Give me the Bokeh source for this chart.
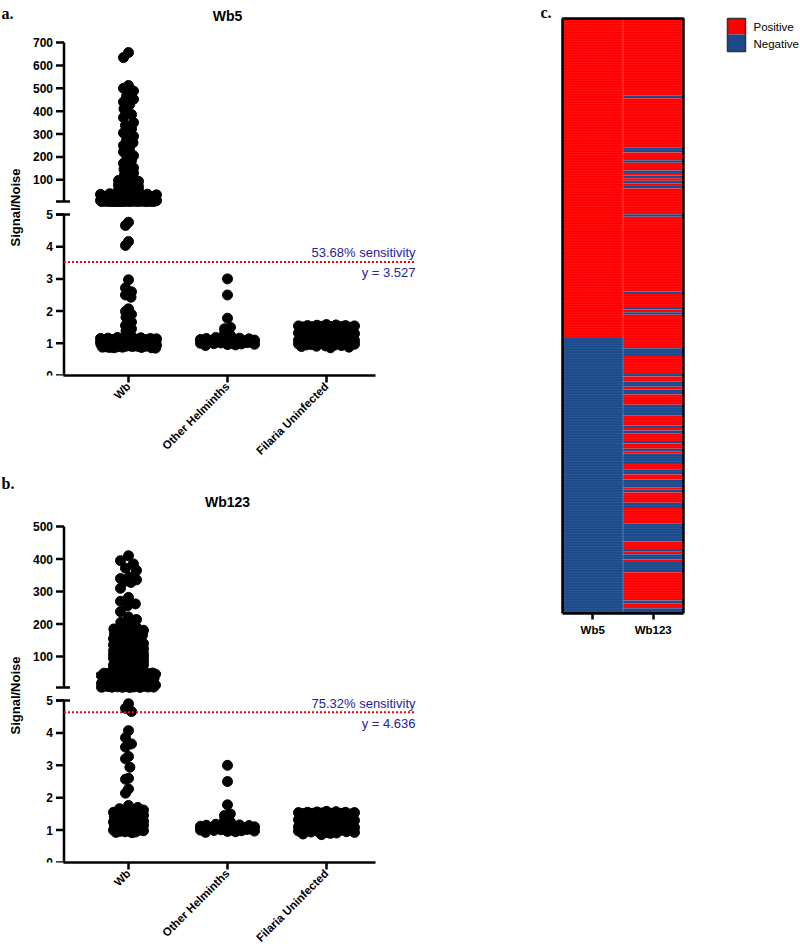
import numpy as np
from math import pi
from bokeh.plotting import figure
from bokeh.models import Range1d, FixedTicker
from bokeh.layouts import row, column
from bokeh.embed import file_html
from bokeh.resources import INLINE
from bokeh.core.properties import value

SANS = "Liberation Sans"
SERIF = "Liberation Serif"
RED = "#ff0000"
BLUE = "#1b4a8c"
NOTE_BLUE = "#23239b"

groups = ["Wb", "Other Helminths", "Filaria Uninfected"]

# ---------------- Wb5 signal/noise ratios ----------------
wb5_wb = [
    656, 634, 512, 500, 488, 465, 452, 440, 428, 410, 385, 372, 350, 338, 322, 305, 290, 272, 262, 250,
    236, 222, 205, 196, 185, 172, 162, 152, 146, 138, 130, 122, 115, 108, 102,
    97, 93, 88, 85, 81, 77, 74, 70, 66, 63, 61, 58, 55, 53, 51, 49, 47, 45, 43, 41,
    39, 37, 36, 34, 33, 31, 30, 29, 27, 26, 25, 24, 23, 22, 21, 20, 19, 18, 17, 16.5,
    16, 15, 14.5, 14, 13, 12.5, 12, 11.5, 11, 10.5, 10, 9.6, 9.3, 9, 8.7, 8.4, 8.1, 7.9, 7.6, 7.4,
    7.2, 7, 6.8, 6.6, 6.4, 6.3, 6.1, 6, 5.9, 5.8, 5.7, 5.6, 5.55, 5.5, 5.45, 5.4, 5.35, 5.3, 5.25, 5.2,
    5.15, 5.12, 5.08, 5.05, 5.02,
    4.76, 4.66, 4.16, 4.04,
    2.97, 2.72, 2.60, 2.50, 2.43, 2.07, 1.99, 1.90, 1.81, 1.66, 1.55, 1.45, 1.38, 1.32, 1.27, 1.22,
    1.18, 1.17, 1.16, 1.15, 1.15, 1.14, 1.13, 1.13, 1.12, 1.12,
    1.11, 1.11, 1.10, 1.10, 1.10, 1.09, 1.09, 1.09, 1.08, 1.08,
    1.08, 1.07, 1.07, 1.07, 1.06, 1.06, 1.06, 1.06, 1.05, 1.05,
    1.05, 1.05, 1.04, 1.04, 1.04, 1.04, 1.03, 1.03, 1.03, 1.03,
    1.02, 1.02, 1.02, 1.02, 1.01, 1.01, 1.01, 1.01, 1.00, 1.00,
    1.00, 1.00, 0.99, 0.99, 0.99, 0.99, 0.98, 0.98, 0.98, 0.98,
    0.97, 0.97, 0.97, 0.96, 0.96, 0.96, 0.95, 0.95, 0.95, 0.94,
    0.94, 0.94, 0.93, 0.93, 0.92, 0.92, 0.91, 0.91, 0.90, 0.90,
    0.89, 0.89, 0.88, 0.88, 0.87, 0.87, 0.86, 0.86, 0.85, 1.12,
    1.08,
]
wb5_other = [
    3.00, 2.50, 1.78, 1.50, 1.45, 1.38, 1.30, 1.25, 1.20, 1.18,
    1.16, 1.15, 1.14, 1.12, 1.12, 1.10, 1.10, 1.08, 1.08, 1.07,
    1.06, 1.05, 1.05, 1.04, 1.03, 1.03, 1.02, 1.01, 1.00, 1.00,
    0.99, 0.98, 0.97, 0.96, 0.95, 0.93,
]
wb5_uninfected = [
    0.86, 0.88, 0.90, 0.91, 0.92, 0.93, 0.94, 0.95, 0.96, 0.97,
    0.98, 0.99, 1.00, 1.00, 1.01, 1.02, 1.03, 1.04, 1.05, 1.06,
    1.07, 1.08, 1.09, 1.10, 1.11, 1.12, 1.13, 1.14, 1.16, 1.18,
    1.28, 1.30, 1.32, 1.34, 1.36, 1.37, 1.38, 1.39, 1.40, 1.41,
    1.42, 1.42, 1.43, 1.44, 1.44, 1.45, 1.45, 1.46, 1.46, 1.47,
    1.47, 1.48, 1.48, 1.49, 1.49, 1.50, 1.50, 1.50, 1.51, 1.52,
    1.52, 1.52, 1.53, 1.54, 1.54, 1.55, 1.55, 1.56, 1.57, 1.58,
]
wb5_cutoff = 3.527
wb5_note = "53.68% sensitivity"
wb5_top_ticks = [100, 200, 300, 400, 500, 600, 700]

# ---------------- Wb123 signal/noise ratios ----------------
wb123_wb = [
    410, 395, 385, 372, 365, 345, 340, 336, 332, 328, 310, 282, 270, 262, 256, 238, 222, 214, 205, 198, 190,
    185, 183, 181, 179, 178, 177, 175, 172, 170, 168, 166, 165, 162, 160, 158, 155, 154, 152, 150, 148,
    146, 144, 142, 140, 138, 136, 135, 134, 132, 130, 128, 126, 124, 122, 120, 118, 116, 114, 112, 110,
    109, 108, 107, 106, 105, 104, 103, 102, 101, 100,
    99, 98, 96, 95, 94, 92, 91, 90, 88, 87, 86, 84, 83, 82, 80, 79, 78, 76, 75, 74,
    72, 71, 70, 68, 67, 66, 64, 63, 62, 60, 59, 58, 57, 56, 55, 54, 53, 52, 51, 50,
    49.5, 49, 48.8, 48.5, 48.2,
    47, 46, 45, 44, 43, 42, 41, 40, 39, 38, 37, 36, 35, 34, 33, 32, 31, 30, 29, 28,
    27, 26, 25, 24, 23, 22, 21, 20, 19, 18, 17, 16, 15, 14, 13, 12.5, 12, 11.5, 11, 10.5,
    10, 9.5, 9, 8.5, 8, 7.5, 7, 6.8, 6.5, 6.2, 6, 5.8, 5.5, 5.3, 5.1,
    4.9, 4.76, 4.66,
    4.07, 3.85, 3.66, 3.56, 3.27, 3.2, 2.94, 2.6, 2.57, 2.27, 2.14, 1.76, 1.7, 1.66, 1.62, 1.58,
    1.55, 1.52, 1.5, 1.48, 1.46, 1.44, 1.42, 1.4, 1.38, 1.36, 1.34, 1.32, 1.3, 1.28, 1.26, 1.25, 1.24, 1.22, 1.2, 1.18,
    1.16, 1.15, 1.14, 1.12, 1.1, 1.08, 1.06, 1.05, 1.04, 1.03, 1.02, 1.01, 1.0, 0.99, 0.98, 0.97, 0.96, 0.95, 0.94, 0.93, 0.92,
]
wb123_other = [
    3.00, 2.50, 1.78, 1.50, 1.45, 1.38, 1.30, 1.25, 1.20, 1.18,
    1.16, 1.15, 1.14, 1.12, 1.12, 1.10, 1.10, 1.08, 1.08, 1.07,
    1.06, 1.05, 1.05, 1.04, 1.03, 1.03, 1.02, 1.01, 1.00, 1.00,
    0.99, 0.98, 0.97, 0.96, 0.95, 0.93,
]
wb123_uninfected = [
    0.86, 0.88, 0.90, 0.91, 0.92, 0.93, 0.94, 0.95, 0.96, 0.97,
    0.98, 0.99, 1.00, 1.00, 1.01, 1.02, 1.03, 1.04, 1.05, 1.06,
    1.07, 1.08, 1.09, 1.10, 1.11, 1.12, 1.13, 1.14, 1.16, 1.18,
    1.28, 1.30, 1.32, 1.34, 1.36, 1.37, 1.38, 1.39, 1.40, 1.41,
    1.42, 1.42, 1.43, 1.44, 1.44, 1.45, 1.45, 1.46, 1.46, 1.47,
    1.47, 1.48, 1.48, 1.49, 1.49, 1.50, 1.50, 1.50, 1.51, 1.52,
    1.52, 1.52, 1.53, 1.54, 1.54, 1.55, 1.55, 1.56, 1.57, 1.58,
]
wb123_cutoff = 4.636
wb123_note = "75.32% sensitivity"
wb123_top_ticks = [100, 200, 300, 400, 500]

low_ticks = [0, 1, 2, 3, 4, 5]
BREAK_AT = 5

# ---------------- per-sample calls (run lengths, top to bottom) ----------------
heat_columns = ["Wb5", "Wb123"]
heat_wb5_runs = [("P", 124), ("N", 107)]
heat_wb123_runs = [
    ("P", 30), ("N", 1), ("P", 19), ("N", 2), ("P", 3), ("N", 1), ("P", 3), ("N", 1), ("P", 1), ("N", 1),
    ("P", 1), ("N", 1), ("P", 1), ("N", 1), ("P", 10), ("N", 1), ("P", 29), ("N", 1), ("P", 5), ("N", 1),
    ("P", 1), ("N", 1), ("P", 13), ("N", 3), ("P", 7), ("N", 1), ("P", 2), ("N", 2), ("P", 1), ("N", 2),
    ("P", 4), ("N", 4), ("P", 4), ("N", 1), ("P", 1), ("N", 1), ("P", 3), ("N", 1), ("P", 2), ("N", 1),
    ("P", 1), ("N", 4), ("P", 2), ("N", 2), ("P", 2), ("N", 3), ("P", 1), ("N", 1), ("P", 4), ("N", 2),
    ("P", 6), ("N", 7), ("P", 3), ("N", 1), ("P", 1), ("N", 2), ("P", 1), ("N", 4), ("P", 11), ("N", 1),
    ("P", 2), ("N", 2),
]
legend_labels = ["Positive", "Negative"]

DOT = 10
DOT_GAP = 9.5


def swarm(py, half_max, dmin):
    """Horizontal offsets (px) packing dots round a centre line; overlap once a row is full."""
    py = np.asarray(py, float)
    half_max = np.asarray(half_max, float)
    out = np.zeros(len(py))
    px_l, py_l = [], []
    for i in np.argsort(py, kind="stable"):
        y, hm = py[i], half_max[i]
        if px_l:
            ax = np.array(px_l)
            ay = np.array(py_l)
            m = np.abs(ay - y) < dmin
            nx, ny = ax[m], ay[m]
        else:
            nx = ny = np.zeros(0)
        h = np.sqrt(np.maximum(dmin ** 2 - (ny - y) ** 2, 0))
        cands = np.concatenate([[0.0], nx - h, nx + h])
        free = [c for c in cands
                if abs(c) <= hm + 1e-9 and not np.any(np.abs(c - nx) < h - 1e-6)]
        if free:
            pref = -1 if np.sum(nx < 0) < np.sum(nx > 0) else 1
            best = min(free, key=lambda c: (round(abs(c), 4), 0 if c * pref >= 0 else 1))
        else:
            grid = np.linspace(-hm, hm, int(4 * hm) + 1)
            d = np.sqrt((grid[:, None] - nx[None, :]) ** 2 + (y - ny[None, :]) ** 2).min(axis=1)
            best = grid[np.argmax(d - 1e-3 * np.abs(grid))]
        out[i] = best
        px_l.append(best)
        py_l.append(y)
    return out


def txt(p, x, y, s, size, bold=True, align="left", baseline="middle", color="black",
        font=SANS, angle=0.0, **kw):
    p.text(x=[x], y=[y], text=[s], text_font=value(font), text_font_size=size,
           text_font_style="bold" if bold else "normal", text_align=align,
           text_baseline=baseline, text_color=color, angle=angle, **kw)


def style_xaxis(xa, size, standoff):
    xa.axis_line_width = 2.5
    xa.axis_line_color = "black"
    xa.major_tick_line_width = 2.5
    xa.major_tick_line_color = "black"
    xa.major_tick_in = 0
    xa.minor_tick_out = 0
    xa.minor_tick_in = 0
    xa.major_label_standoff = standoff
    xa.major_label_text_font = SANS
    xa.major_label_text_font_style = "bold"
    xa.major_label_text_font_size = size
    xa.major_label_text_color = "black"


def scatter_panel(spec, series, cutoff, note, title, tag, top_ticks):
    W, H = spec["width"], spec["height"]
    z_px, f_px = spec["zero_px"], spec["five_px"]
    lo_px, hi_px = spec["top_low_px"], spec["top_high_px"]
    top_max = top_ticks[-1]
    syb = (z_px - f_px) / BREAK_AT
    syt = (lo_px - hi_px) / (top_max - BREAK_AT)
    X0, SX = spec["first_x_px"], spec["step_px"]

    def xd(px):
        return (px - X0) / SX

    def yb(px):
        return (z_px - px) / syb

    def yt(px):
        return BREAK_AT + (lo_px - px) / syt

    p = figure(width=W, height=H, output_backend="svg", toolbar_location=None,
               x_range=Range1d(xd(0), xd(W)), y_range=Range1d(yb(z_px), yb(0)),
               y_axis_location=None, x_axis_location="below",
               min_border_left=0, min_border_right=0, min_border_top=0,
               min_border_bottom=H - z_px)
    p.extra_y_ranges = {"top": Range1d(yt(z_px), yt(0))}
    p.xgrid.visible = False
    p.ygrid.visible = False
    p.outline_line_color = None

    # dots of each group, packed side by side, plus the median bar
    for g, vals in enumerate(series):
        v = np.asarray(vals, float)
        up = v >= BREAK_AT
        pix = np.where(up, lo_px - (v - BREAK_AT) * syt, z_px - v * syb)
        widths = np.full(len(v), 28.0)
        for lo, hi, w in spec["spread"][g]:
            widths[(v >= lo) & (v < hi)] = w
        off = swarm(pix, widths, DOT_GAP)
        xs = g + off / SX
        p.scatter(xs[~up], v[~up], size=DOT, fill_color="black", line_color="black")
        if up.any():
            p.scatter(xs[up], v[up], size=DOT, fill_color="black", line_color="black",
                      y_range_name="top")
        med = float(np.median(v))
        hw = spec["median_half_px"] / SX
        extra = {"y_range_name": "top"} if med >= BREAK_AT else {}
        p.segment(x0=[g - hw], y0=[med], x1=[g + hw], y1=[med], line_color="black",
                  line_width=1.8, **extra)

    # broken y axis, two pieces
    ax = xd(spec["axis_px"])
    t0 = xd(spec["axis_px"] - 8)
    br = xd(spec["axis_px"] + 6)
    lx = xd(spec["axis_px"] - 11)
    kw_top = {"y_range_name": "top"}
    axis_style = dict(line_color="black", line_width=2.5)
    p.segment(x0=[ax], y0=[BREAK_AT], x1=[ax], y1=[top_max], **axis_style, **kw_top)
    p.segment(x0=[t0] * len(top_ticks), y0=top_ticks, x1=[ax] * len(top_ticks), y1=top_ticks,
              **axis_style, **kw_top)
    p.segment(x0=[t0], y0=[BREAK_AT], x1=[br], y1=[BREAK_AT], **axis_style, **kw_top)
    p.text(x=[lx] * len(top_ticks), y=top_ticks, text=[str(t) for t in top_ticks],
           text_font=value(SANS), text_font_size="12px", text_font_style="bold",
           text_align="right", text_baseline="middle", **kw_top)

    p.segment(x0=[ax], y0=[yb(z_px + 1.2)], x1=[ax], y1=[BREAK_AT], **axis_style)
    p.segment(x0=[t0] * len(low_ticks), y0=low_ticks, x1=[ax] * len(low_ticks), y1=low_ticks,
              **axis_style)
    p.segment(x0=[t0], y0=[BREAK_AT], x1=[br], y1=[BREAK_AT], **axis_style)
    p.text(x=[lx] * len(low_ticks), y=low_ticks, text=[str(t) for t in low_ticks],
           text_font=value(SANS), text_font_size="12px", text_font_style="bold",
           text_align="right", text_baseline="middle")

    # cut-off line and its notes
    thr_px = z_px - cutoff * syb
    right = xd(spec["note_right_px"])
    p.segment(x0=[ax], y0=[cutoff], x1=[right], y1=[cutoff], line_color=RED, line_width=2,
              line_dash="2 2")
    txt(p, right, yb(thr_px - 9), note, "13px", bold=False, align="right", color=NOTE_BLUE)
    txt(p, right, yb(thr_px + 11), f"y = {cutoff}", "13px", bold=False, align="right",
        color=NOTE_BLUE)

    # titles and labels
    txt(p, 1, yb(spec["title_px"]), title, "14px", align="center")
    txt(p, xd(1), yb(spec["tag_px"]), tag, "16px", baseline="top", font=SERIF)
    txt(p, xd(15), yb(spec["ylabel_px"]), "Signal/Noise", "13px", align="center",
        angle=pi / 2)

    xa = p.xaxis[0]
    xa.ticker = FixedTicker(ticks=list(range(len(groups))))
    xa.major_label_overrides = {i: g for i, g in enumerate(groups)}
    xa.bounds = (xd(spec["axis_px"] - 1), xd(spec["axis_end_px"]))
    xa.major_label_orientation = pi / 4
    xa.major_tick_out = 7
    style_xaxis(xa, "11.5px", 2)
    return p


def heatmap():
    W, H = 260, 952
    top_px, bot_px = 18, 613
    left_px, col_w = 22, 60.5
    n = sum(c for _, c in heat_wb5_runs)
    rh = (bot_px - top_px) / n
    X0 = left_px + col_w / 2

    def xd(px):
        return (px - X0) / col_w

    def yd(px):
        return (px - top_px) / rh

    p = figure(width=W, height=H, output_backend="svg", toolbar_location=None,
               x_range=Range1d(xd(0), xd(W)), y_range=Range1d(yd(bot_px), yd(0)),
               y_axis_location=None, x_axis_location="below",
               min_border_left=0, min_border_right=0, min_border_top=0,
               min_border_bottom=H - bot_px)
    p.xgrid.visible = False
    p.ygrid.visible = False
    p.outline_line_color = None

    # one block per run of identical calls
    xs, ys, hs, cs = [], [], [], []
    for ci, runs in enumerate([heat_wb5_runs, heat_wb123_runs]):
        r0 = 0
        for s, cnt in runs:
            xs.append(ci)
            ys.append(r0 + cnt / 2)
            hs.append(cnt)
            cs.append(RED if s == "P" else BLUE)
            r0 += cnt
    p.rect(x=xs, y=ys, width=1, height=hs, fill_color=cs, line_color=None)
    # faint seams between samples
    rows = list(range(1, n))
    p.segment(x0=[-0.5] * len(rows), y0=rows, x1=[1.5] * len(rows), y1=rows,
              line_color="white", line_alpha=0.09, line_width=0.8)
    p.segment(x0=[0.5], y0=[0], x1=[0.5], y1=[n], line_color="white", line_alpha=0.25,
              line_width=1)
    p.rect(x=[0.5], y=[n / 2], width=2, height=n, fill_color=None,
           line_color="black", line_width=2.5)

    # legend swatches
    lx0, lx1 = xd(187), xd(205)
    p.quad(left=[lx0], right=[lx1], top=[yd(18)], bottom=[yd(34)], fill_color=RED,
           line_color=None)
    p.quad(left=[lx0], right=[lx1], top=[yd(34)], bottom=[yd(51)], fill_color=BLUE,
           line_color=None)
    p.quad(left=[lx0], right=[lx1], top=[yd(18)], bottom=[yd(51)], fill_color=None,
           line_color="#333333", line_width=1.5)
    txt(p, xd(213), yd(26.5), legend_labels[0], "11.5px", bold=False)
    txt(p, xd(213), yd(43), legend_labels[1], "11.5px", bold=False)
    txt(p, xd(0), yd(3), "c.", "16px", baseline="top", font=SERIF)

    xa = p.xaxis[0]
    xa.ticker = FixedTicker(ticks=list(range(len(heat_columns))))
    xa.major_label_overrides = {i: c for i, c in enumerate(heat_columns)}
    xa.bounds = (-0.5, len(heat_columns) - 0.5)
    xa.major_tick_out = 6
    style_xaxis(xa, "11.5px", 4)
    return p


spec_a = dict(width=540, height=470, zero_px=375, five_px=214, top_low_px=201, top_high_px=42,
              first_x_px=128, step_px=99, axis_px=63.5, axis_end_px=375,
              median_half_px=32.5, note_right_px=415, title_px=15, tag_px=4, ylabel_px=207,
              spread=[[(0, 1.2, 28), (1.2, 5, 3), (5, 40, 28), (40, 100, 10), (100, 1000, 5)],
                      [(0, 1.2, 27), (1.2, 5, 3)],
                      [(0, 5, 28)]])
spec_b = dict(width=540, height=482, zero_px=392, five_px=230, top_low_px=217, top_high_px=56,
              first_x_px=128, step_px=99, axis_px=63.5, axis_end_px=375,
              median_half_px=32.5, note_right_px=415, title_px=31, tag_px=4, ylabel_px=225,
              spread=[[(0, 1.8, 15), (1.8, 5, 3), (5, 50, 27), (50, 190, 15), (190, 1000, 8)],
                      [(0, 1.2, 27), (1.2, 5, 3)],
                      [(0, 5, 28)]])

fig_a = scatter_panel(spec_a, [wb5_wb, wb5_other, wb5_uninfected], wb5_cutoff, wb5_note,
                      "Wb5", "a.", wb5_top_ticks)
fig_b = scatter_panel(spec_b, [wb123_wb, wb123_other, wb123_uninfected], wb123_cutoff,
                      wb123_note, "Wb123", "b.", wb123_top_ticks)
fig_c = heatmap()

page = row(column(fig_a, fig_b), fig_c)
open("out.html", "w").write(file_html(page, INLINE, "Wb5 and Wb123 signal/noise"))
